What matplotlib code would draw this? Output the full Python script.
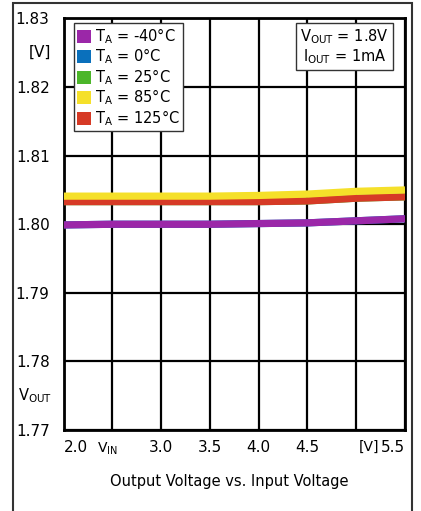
import matplotlib
matplotlib.use("Agg")
import matplotlib.pyplot as plt
from matplotlib.patches import Patch, Rectangle

# data
vin = [2.0, 2.5, 3.0, 3.5, 4.0, 4.5, 5.0, 5.5]
vout_m40 = [1.7999, 1.8000, 1.8000, 1.8000, 1.8001, 1.8002, 1.8005, 1.8008]
vout_0 = [1.7999, 1.8000, 1.8000, 1.8000, 1.8001, 1.8002, 1.8005, 1.8008]
vout_25 = [1.8033, 1.8033, 1.8033, 1.8033, 1.8033, 1.8034, 1.8038, 1.8040]
vout_85 = [1.8041, 1.8041, 1.8041, 1.8041, 1.8042, 1.8044, 1.8048, 1.8050]
vout_125 = [1.8033, 1.8033, 1.8033, 1.8033, 1.8033, 1.8034, 1.8038, 1.8040]

temps = ["-40°C", "0°C", "25°C", "85°C", "125°C"]
colors = ["#9b27a8", "#0a70bc", "#4cb62a", "#f5e02a", "#d63a26"]

xticks = [2.0, 2.5, 3.0, 3.5, 4.0, 4.5, 5.0, 5.5]
xlabels = ["2.0", "", "3.0", "3.5", "4.0", "4.5", "", "5.5"]
yticks = [1.77, 1.78, 1.79, 1.80, 1.81, 1.82, 1.83]
ylabels = ["1.77", "1.78", "1.79", "1.80", "1.81", "1.82", "1.83"]

fs = 11
fig = plt.figure(figsize=(4.21, 5.11), dpi=100)
ax = fig.add_axes([0.151, 0.1585, 0.811, 0.8053])

# outer frame around whole figure
fig.patches.append(Rectangle((0.031, -0.01), 0.948, 1.004, transform=fig.transFigure,
                             fill=False, edgecolor="#333333", linewidth=1.5))

# hidden series first, then visible ones on top
series = [vout_0, vout_25, vout_m40, vout_125, vout_85]
order = [1, 2, 0, 4, 3]
for s, i in zip(series, order):
    ax.plot(vin, s, color=colors[i], linewidth=5.2, solid_capstyle="butt", zorder=3)

ax.set_xlim(2.0, 5.5)
ax.set_ylim(1.77, 1.83)
ax.set_xticks(xticks)
ax.set_xticklabels(xlabels, fontsize=fs)
ax.set_yticks(yticks)
ax.set_yticklabels(ylabels, fontsize=fs)
ax.tick_params(axis="y", length=0, pad=10)
ax.tick_params(axis="x", length=0, pad=7)
tl = ax.get_xticklabels()
tl[0].set_horizontalalignment("left")
tl[-1].set_horizontalalignment("right")
ax.grid(True, color="black", linewidth=1.6)
for sp in ax.spines.values():
    sp.set_linewidth(2)

# unit labels in place of ticks
ax.text(2.45, -0.026, r"$\mathregular{V_{IN}}$", transform=ax.get_xaxis_transform(),
        ha="center", va="top", fontsize=fs - 1)
ax.text(5.13, -0.024, "[V]", transform=ax.get_xaxis_transform(),
        ha="center", va="top", fontsize=fs - 1)
ax.text(-0.035, 1.825, "[V]", transform=ax.get_yaxis_transform(),
        ha="right", va="center", fontsize=fs)
ax.text(-0.035, 1.775, r"$\mathregular{V_{OUT}}$", transform=ax.get_yaxis_transform(),
        ha="right", va="center", fontsize=fs - 0.5)

handles = [Patch(facecolor=c, edgecolor="none") for c in colors]
labels = [r"$\mathregular{T_A}$ = " + t for t in temps]
leg = ax.legend(handles, labels, loc="upper left", bbox_to_anchor=(0.03, 0.988),
                fontsize=fs - 0.5, handlelength=1.0, handleheight=1.0,
                handletextpad=0.25, labelspacing=0.05, borderpad=0.2,
                borderaxespad=0, fancybox=False, framealpha=1, edgecolor="#333333")
leg.get_frame().set_linewidth(1)
leg.set_zorder(5)

ax.text(0.823, 0.932, "$\\mathregular{V_{OUT}}$ = 1.8V\n$\\mathregular{I_{OUT}}$ = 1mA",
        transform=ax.transAxes, ha="center", va="center", fontsize=fs - 0.5,
        linespacing=1.1, zorder=5,
        bbox=dict(boxstyle="square,pad=0.3", facecolor="white", edgecolor="#333333", linewidth=1))

fig.text(0.544, 0.057, "Output Voltage vs. Input Voltage", ha="center", va="center", fontsize=10.5)

fig.savefig("out.png", dpi=100)
